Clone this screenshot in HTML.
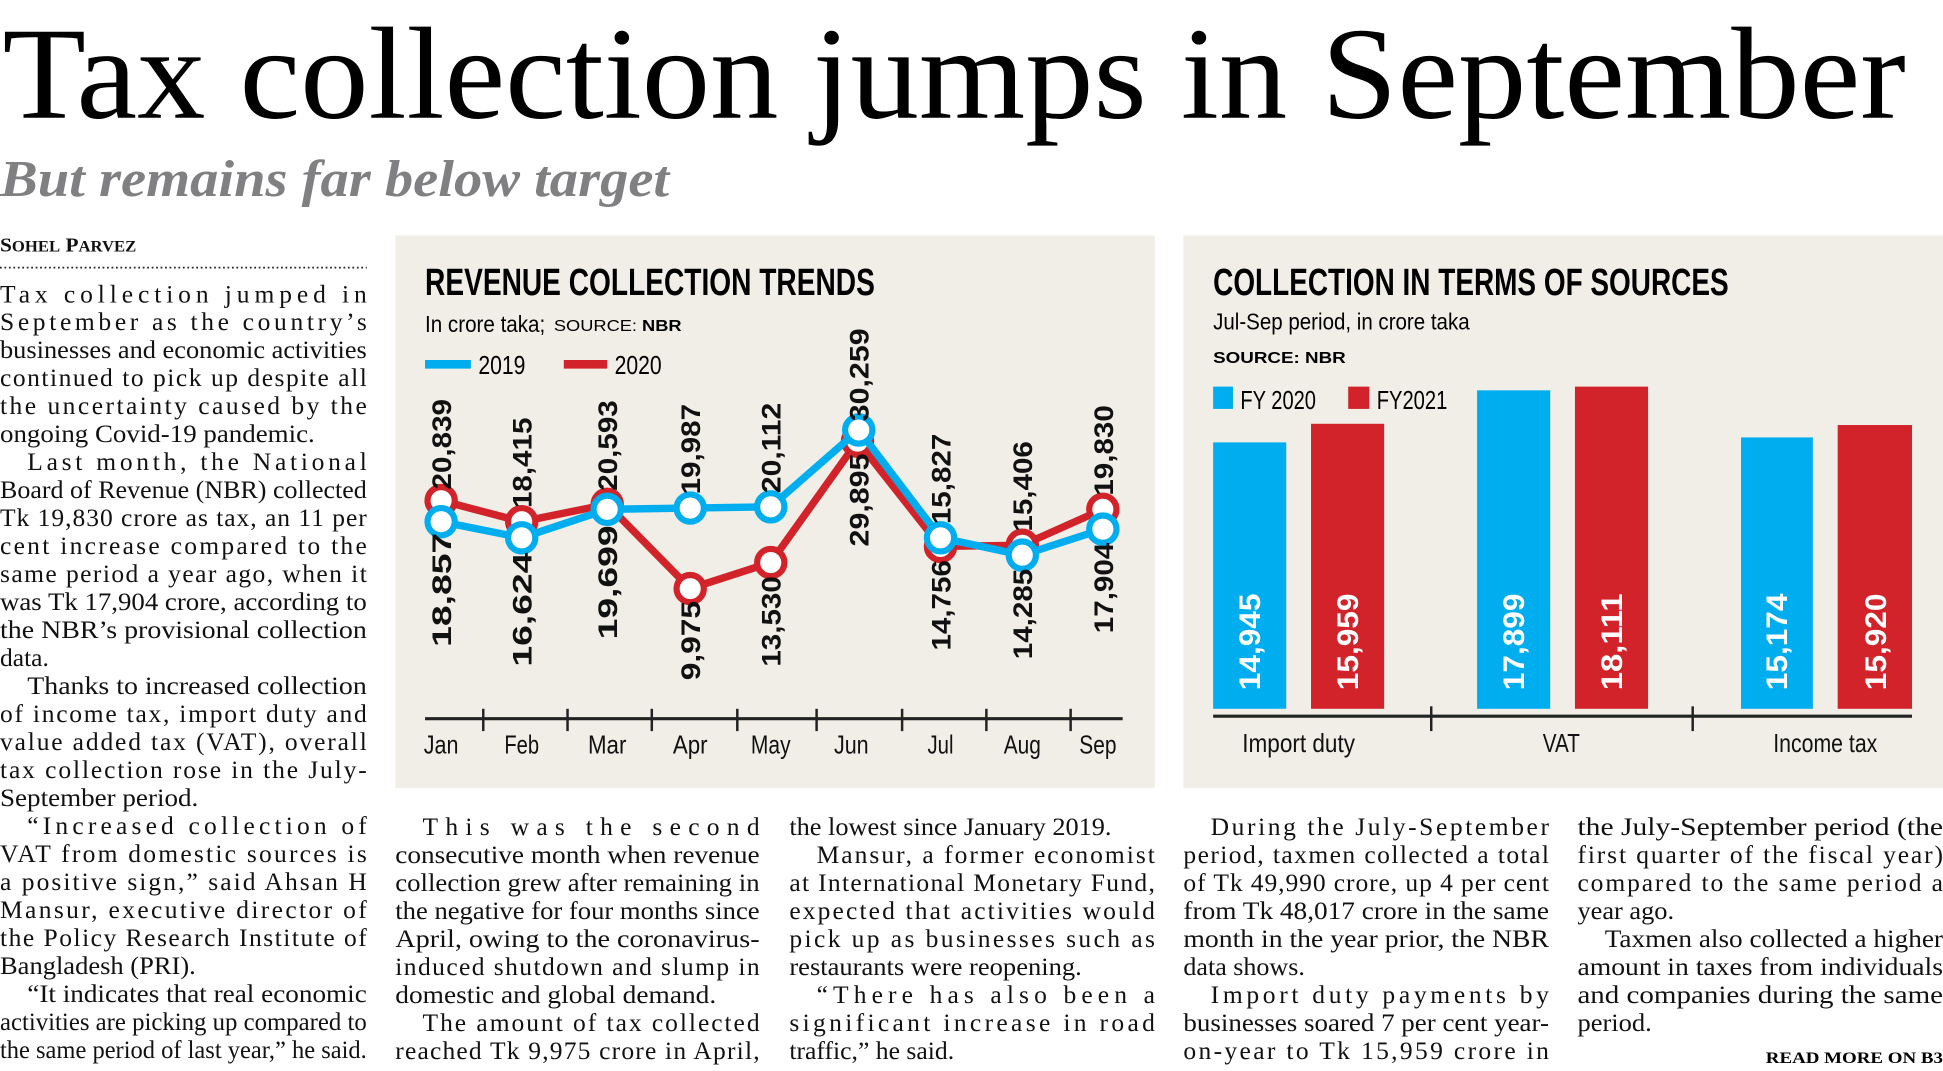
<!DOCTYPE html>
<html><head><meta charset="utf-8"><style>
html,body{margin:0;padding:0;background:#fff;overflow:hidden}
svg{display:block}
.b{font-family:"Liberation Serif",serif;font-size:20.6px;fill:#111}
.n{font-family:"Liberation Sans Narrow","Liberation Sans",sans-serif}
</style></head><body>
<svg width="1943" height="1071" viewBox="0 0 1568 864.3" xmlns="http://www.w3.org/2000/svg">
<rect width="1568" height="865" fill="#fff"/>
<text x="2" y="95" font-family="Liberation Serif,serif" font-size="106" textLength="1536" lengthAdjust="spacingAndGlyphs" fill="#000">Tax collection jumps in September</text>
<text x="0" y="158" font-family="Liberation Serif,serif" font-size="42" font-style="italic" font-weight="bold" fill="#808083" textLength="540" lengthAdjust="spacingAndGlyphs">But remains far below target</text>
<text x="0" y="203" font-family="Liberation Serif,serif" font-size="16" font-weight="bold" fill="#111" textLength="110" lengthAdjust="spacingAndGlyphs">S<tspan font-size="12.5">OHEL</tspan> P<tspan font-size="12.5">ARVEZ</tspan></text>
<line x1="0" y1="216" x2="296" y2="216" stroke="#222" stroke-width="1.4" stroke-dasharray="1.4 2.2"/>

<g class="b">
<text x="0" y="244" textLength="296" lengthAdjust="spacing">Tax collection jumped in</text>
<text x="0" y="266.5" textLength="296" lengthAdjust="spacing">September as the country’s</text>
<text x="0" y="289" textLength="296" lengthAdjust="spacingAndGlyphs">businesses and economic activities</text>
<text x="0" y="311.6" textLength="296" lengthAdjust="spacing">continued to pick up despite all</text>
<text x="0" y="334.2" textLength="296" lengthAdjust="spacing">the uncertainty caused by the</text>
<text x="0" y="356.8" textLength="254" lengthAdjust="spacingAndGlyphs">ongoing Covid-19 pandemic.</text>
<text x="22" y="379.4" textLength="274" lengthAdjust="spacing">Last month, the National</text>
<text x="0" y="402" textLength="296" lengthAdjust="spacingAndGlyphs">Board of Revenue (NBR) collected</text>
<text x="0" y="424.6" textLength="296" lengthAdjust="spacing">Tk 19,830 crore as tax, an 11 per</text>
<text x="0" y="447.2" textLength="296" lengthAdjust="spacing">cent increase compared to the</text>
<text x="0" y="469.8" textLength="296" lengthAdjust="spacing">same period a year ago, when it</text>
<text x="0" y="492.4" textLength="296" lengthAdjust="spacingAndGlyphs">was Tk 17,904 crore, according to</text>
<text x="0" y="515" textLength="296" lengthAdjust="spacingAndGlyphs">the NBR’s provisional collection</text>
<text x="0" y="537.6">data.</text>
<text x="22" y="560.2" textLength="274" lengthAdjust="spacingAndGlyphs">Thanks to increased collection</text>
<text x="0" y="582.8" textLength="296" lengthAdjust="spacing">of income tax, import duty and</text>
<text x="0" y="605.4" textLength="296" lengthAdjust="spacing">value added tax (VAT), overall</text>
<text x="0" y="628" textLength="296" lengthAdjust="spacing">tax collection rose in the July-</text>
<text x="0" y="650.6" textLength="160" lengthAdjust="spacingAndGlyphs">September period.</text>
<text x="22" y="673.2" textLength="274" lengthAdjust="spacing">“Increased collection of</text>
<text x="0" y="695.8" textLength="296" lengthAdjust="spacing">VAT from domestic sources is</text>
<text x="0" y="718.4" textLength="296" lengthAdjust="spacing">a positive sign,” said Ahsan H</text>
<text x="0" y="741" textLength="296" lengthAdjust="spacing">Mansur, executive director of</text>
<text x="0" y="763.6" textLength="296" lengthAdjust="spacing">the Policy Research Institute of</text>
<text x="0" y="786.2" textLength="158" lengthAdjust="spacingAndGlyphs">Bangladesh (PRI).</text>
<text x="22" y="808.8" textLength="274" lengthAdjust="spacingAndGlyphs">“It indicates that real economic</text>
<text x="0" y="831.4" textLength="296" lengthAdjust="spacingAndGlyphs">activities are picking up compared to</text>
<text x="0" y="854" textLength="296" lengthAdjust="spacingAndGlyphs">the same period of last year,” he said.</text>

<text x="341" y="674" textLength="272" lengthAdjust="spacing">This was the second</text>
<text x="319" y="696.6" textLength="294" lengthAdjust="spacingAndGlyphs">consecutive month when revenue</text>
<text x="319" y="719.2" textLength="294" lengthAdjust="spacingAndGlyphs">collection grew after remaining in</text>
<text x="319" y="741.8" textLength="294" lengthAdjust="spacingAndGlyphs">the negative for four months since</text>
<text x="319" y="764.4" textLength="294" lengthAdjust="spacingAndGlyphs">April, owing to the coronavirus-</text>
<text x="319" y="787" textLength="294" lengthAdjust="spacing">induced shutdown and slump in</text>
<text x="319" y="809.6" textLength="259" lengthAdjust="spacingAndGlyphs">domestic and global demand.</text>
<text x="341" y="832.2" textLength="272" lengthAdjust="spacing">The amount of tax collected</text>
<text x="319" y="854.8" textLength="294" lengthAdjust="spacing">reached Tk 9,975 crore in April,</text>

<text x="637" y="674" textLength="260" lengthAdjust="spacingAndGlyphs">the lowest since January 2019.</text>
<text x="659" y="696.6" textLength="273" lengthAdjust="spacing">Mansur, a former economist</text>
<text x="637" y="719.2" textLength="295" lengthAdjust="spacing">at International Monetary Fund,</text>
<text x="637" y="741.8" textLength="295" lengthAdjust="spacing">expected that activities would</text>
<text x="637" y="764.4" textLength="295" lengthAdjust="spacing">pick up as businesses such as</text>
<text x="637" y="787" textLength="236" lengthAdjust="spacingAndGlyphs">restaurants were reopening.</text>
<text x="659" y="809.6" textLength="273" lengthAdjust="spacing">“There has also been a</text>
<text x="637" y="832.2" textLength="295" lengthAdjust="spacing">significant increase in road</text>
<text x="637" y="854.8" textLength="133" lengthAdjust="spacingAndGlyphs">traffic,” he said.</text>

<text x="977" y="674" textLength="273" lengthAdjust="spacing">During the July-September</text>
<text x="955" y="696.6" textLength="295" lengthAdjust="spacing">period, taxmen collected a total</text>
<text x="955" y="719.2" textLength="295" lengthAdjust="spacing">of Tk 49,990 crore, up 4 per cent</text>
<text x="955" y="741.8" textLength="295" lengthAdjust="spacingAndGlyphs">from Tk 48,017 crore in the same</text>
<text x="955" y="764.4" textLength="295" lengthAdjust="spacingAndGlyphs">month in the year prior, the NBR</text>
<text x="955" y="787" textLength="98" lengthAdjust="spacingAndGlyphs">data shows.</text>
<text x="977" y="809.6" textLength="273" lengthAdjust="spacing">Import duty payments by</text>
<text x="955" y="832.2" textLength="295" lengthAdjust="spacingAndGlyphs">businesses soared 7 per cent year-</text>
<text x="955" y="854.8" textLength="295" lengthAdjust="spacing">on-year to Tk 15,959 crore in</text>

<text x="1273" y="674" textLength="295" lengthAdjust="spacingAndGlyphs">the July-September period (the</text>
<text x="1273" y="696.6" textLength="295" lengthAdjust="spacing">first quarter of the fiscal year)</text>
<text x="1273" y="719.2" textLength="295" lengthAdjust="spacing">compared to the same period a</text>
<text x="1273" y="741.8" textLength="78" lengthAdjust="spacingAndGlyphs">year ago.</text>
<text x="1295" y="764.4" textLength="273" lengthAdjust="spacingAndGlyphs">Taxmen also collected a higher</text>
<text x="1273" y="787" textLength="295" lengthAdjust="spacingAndGlyphs">amount in taxes from individuals</text>
<text x="1273" y="809.6" textLength="295" lengthAdjust="spacingAndGlyphs">and companies during the same</text>
<text x="1273" y="832.2" textLength="60" lengthAdjust="spacingAndGlyphs">period.</text>
</g>
<text x="1425" y="858" font-family="Liberation Serif,serif" font-size="13" font-weight="bold" textLength="143" lengthAdjust="spacingAndGlyphs">READ MORE ON B3</text>

<!-- Left chart -->
<rect x="319" y="190" width="613" height="446" fill="#f0eee6"/>
<text x="343" y="238" class="n" font-size="31" font-weight="bold" textLength="363" lengthAdjust="spacingAndGlyphs">REVENUE COLLECTION TRENDS</text>
<text x="343" y="268" class="n" font-size="19" textLength="97" lengthAdjust="spacingAndGlyphs">In crore taka;</text>
<text x="447" y="267" font-family="Liberation Sans,sans-serif" font-size="12.5" textLength="103" lengthAdjust="spacingAndGlyphs">SOURCE: <tspan font-weight="bold">NBR</tspan></text>
<line x1="343" y1="294" x2="380" y2="294" stroke="#00aeef" stroke-width="7"/>
<text x="386" y="302" class="n" font-size="21" textLength="38" lengthAdjust="spacingAndGlyphs">2019</text>
<line x1="455" y1="294" x2="490" y2="294" stroke="#d2232a" stroke-width="7"/>
<text x="496" y="302" class="n" font-size="21" textLength="38" lengthAdjust="spacingAndGlyphs">2020</text>

<line x1="343" y1="580" x2="906" y2="580" stroke="#222" stroke-width="2.5"/>
<g stroke="#222" stroke-width="2">
<line x1="390" y1="572" x2="390" y2="590"/><line x1="458" y1="572" x2="458" y2="590"/><line x1="526" y1="572" x2="526" y2="590"/><line x1="595" y1="572" x2="595" y2="590"/><line x1="659" y1="572" x2="659" y2="590"/><line x1="728" y1="572" x2="728" y2="590"/><line x1="796" y1="572" x2="796" y2="590"/><line x1="864" y1="572" x2="864" y2="590"/>
</g>
<g class="n" font-size="21" text-anchor="middle" fill="#111" lengthAdjust="spacingAndGlyphs">
<text x="356" y="608" textLength="28" lengthAdjust="spacingAndGlyphs">Jan</text><text x="421" y="608" textLength="28" lengthAdjust="spacingAndGlyphs">Feb</text><text x="490" y="608" textLength="31" lengthAdjust="spacingAndGlyphs">Mar</text><text x="557" y="608" textLength="28" lengthAdjust="spacingAndGlyphs">Apr</text><text x="622" y="608" textLength="32" lengthAdjust="spacingAndGlyphs">May</text><text x="687" y="608" textLength="28" lengthAdjust="spacingAndGlyphs">Jun</text><text x="759" y="608" textLength="21" lengthAdjust="spacingAndGlyphs">Jul</text><text x="825" y="608" textLength="30" lengthAdjust="spacingAndGlyphs">Aug</text><text x="886" y="608" textLength="30" lengthAdjust="spacingAndGlyphs">Sep</text>
</g>
<polyline points="356,404 421,421 490,407 557,475 622,454 692,356 759,441 825,440 890,411" fill="none" stroke="#d2232a" stroke-width="6" stroke-linejoin="round"/>
<g fill="#fff" stroke="#d2232a" stroke-width="5">
<circle cx="356" cy="404" r="11"/><circle cx="421" cy="421" r="11"/><circle cx="490" cy="407" r="11"/><circle cx="557" cy="475" r="11"/><circle cx="622" cy="454" r="11"/><circle cx="692" cy="356" r="11"/><circle cx="759" cy="441" r="11"/><circle cx="825" cy="440" r="11"/><circle cx="890" cy="411" r="11"/>
</g>
<polyline points="356,421 421,434 490,411 557,410 622,409 693,347 759,434 825,448 890,427" fill="none" stroke="#00aeef" stroke-width="6" stroke-linejoin="round"/>
<g fill="#fff" stroke="#00aeef" stroke-width="5">
<circle cx="356" cy="421" r="11"/><circle cx="421" cy="434" r="11"/><circle cx="490" cy="411" r="11"/><circle cx="557" cy="410" r="11"/><circle cx="622" cy="409" r="11"/><circle cx="693" cy="347" r="11"/><circle cx="759" cy="434" r="11"/><circle cx="825" cy="448" r="11"/><circle cx="890" cy="427" r="11"/>
</g>
<g class="n" font-size="22" font-weight="bold" fill="#111">
<text transform="translate(364,395) rotate(-90)" textLength="73" lengthAdjust="spacingAndGlyphs">20,839</text>
<text transform="translate(364,430) rotate(-90)" text-anchor="end" textLength="92" lengthAdjust="spacingAndGlyphs">18,857</text>
<text transform="translate(429,410) rotate(-90)" textLength="73" lengthAdjust="spacingAndGlyphs">18,415</text>
<text transform="translate(429,446) rotate(-90)" text-anchor="end" textLength="92" lengthAdjust="spacingAndGlyphs">16,624</text>
<text transform="translate(498,396) rotate(-90)" textLength="73" lengthAdjust="spacingAndGlyphs">20,593</text>
<text transform="translate(498,424) rotate(-90)" text-anchor="end" textLength="92" lengthAdjust="spacingAndGlyphs">19,699</text>
<text transform="translate(565,399) rotate(-90)" textLength="73" lengthAdjust="spacingAndGlyphs">19,987</text>
<text transform="translate(565,485) rotate(-90)" text-anchor="end" textLength="64" lengthAdjust="spacingAndGlyphs">9,975</text>
<text transform="translate(630,398) rotate(-90)" textLength="73" lengthAdjust="spacingAndGlyphs">20,112</text>
<text transform="translate(630,465) rotate(-90)" text-anchor="end" textLength="73" lengthAdjust="spacingAndGlyphs">13,530</text>
<text transform="translate(701,340) rotate(-90)" textLength="75" lengthAdjust="spacingAndGlyphs">30,259</text>
<text transform="translate(701,366) rotate(-90)" text-anchor="end" textLength="75" lengthAdjust="spacingAndGlyphs">29,895</text>
<text transform="translate(767,423) rotate(-90)" textLength="73" lengthAdjust="spacingAndGlyphs">15,827</text>
<text transform="translate(767,452) rotate(-90)" text-anchor="end" textLength="73" lengthAdjust="spacingAndGlyphs">14,756</text>
<text transform="translate(833,429) rotate(-90)" textLength="73" lengthAdjust="spacingAndGlyphs">15,406</text>
<text transform="translate(833,459) rotate(-90)" text-anchor="end" textLength="73" lengthAdjust="spacingAndGlyphs">14,285</text>
<text transform="translate(898,400) rotate(-90)" textLength="73" lengthAdjust="spacingAndGlyphs">19,830</text>
<text transform="translate(898,438) rotate(-90)" text-anchor="end" textLength="73" lengthAdjust="spacingAndGlyphs">17,904</text>
</g>

<!-- Right chart -->
<rect x="955" y="190" width="613" height="446" fill="#f0eee6"/>
<text x="979" y="238" class="n" font-size="31" font-weight="bold" textLength="416" lengthAdjust="spacingAndGlyphs">COLLECTION IN TERMS OF SOURCES</text>
<text x="979" y="266" class="n" font-size="19" textLength="207" lengthAdjust="spacingAndGlyphs">Jul-Sep period, in crore taka</text>
<text x="979" y="293" font-family="Liberation Sans,sans-serif" font-size="13" font-weight="bold" textLength="107" lengthAdjust="spacingAndGlyphs">SOURCE: NBR</text>
<rect x="979" y="312" width="16" height="18" fill="#00aeef"/>
<text x="1001" y="330" class="n" font-size="21" textLength="61" lengthAdjust="spacingAndGlyphs">FY 2020</text>
<rect x="1088" y="312" width="17" height="18" fill="#d2232a"/>
<text x="1111" y="330" class="n" font-size="21" textLength="57" lengthAdjust="spacingAndGlyphs">FY2021</text>
<rect x="979" y="357" width="59" height="215" fill="#00aeef"/>
<rect x="1058" y="342" width="59" height="230" fill="#d2232a"/>
<rect x="1192" y="315" width="59" height="257" fill="#00aeef"/>
<rect x="1271" y="312" width="59" height="260" fill="#d2232a"/>
<rect x="1405" y="353" width="58" height="219" fill="#00aeef"/>
<rect x="1483" y="343" width="60" height="229" fill="#d2232a"/>
<line x1="979" y1="578" x2="1543" y2="578" stroke="#222" stroke-width="2.5"/>
<line x1="1155" y1="570" x2="1155" y2="590" stroke="#222" stroke-width="2"/>
<line x1="1366" y1="570" x2="1366" y2="590" stroke="#222" stroke-width="2"/>
<g class="n" font-size="21" text-anchor="middle" fill="#111">
<text x="1048" y="607" textLength="91" lengthAdjust="spacingAndGlyphs">Import duty</text><text x="1260" y="607" textLength="30" lengthAdjust="spacingAndGlyphs">VAT</text><text x="1473" y="607" textLength="84" lengthAdjust="spacingAndGlyphs">Income tax</text>
</g>
<g class="n" font-size="24" font-weight="bold" fill="#fff">
<text transform="translate(1017,557) rotate(-90)" textLength="78" lengthAdjust="spacingAndGlyphs">14,945</text>
<text transform="translate(1096,557) rotate(-90)" textLength="78" lengthAdjust="spacingAndGlyphs">15,959</text>
<text transform="translate(1230,557) rotate(-90)" textLength="78" lengthAdjust="spacingAndGlyphs">17,899</text>
<text transform="translate(1309,557) rotate(-90)" textLength="78" lengthAdjust="spacingAndGlyphs">18,111</text>
<text transform="translate(1442,557) rotate(-90)" textLength="78" lengthAdjust="spacingAndGlyphs">15,174</text>
<text transform="translate(1522,557) rotate(-90)" textLength="78" lengthAdjust="spacingAndGlyphs">15,920</text>
</g>
</svg>
</body></html>
